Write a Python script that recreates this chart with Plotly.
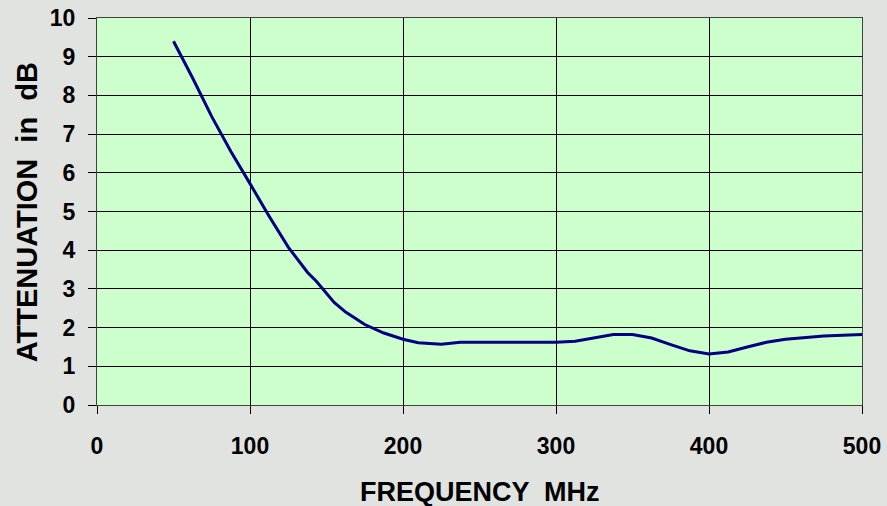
import plotly.graph_objects as go

freq_mhz = [50, 62.5, 75, 87.5, 100, 112.5, 125, 137.5, 143.5, 155, 162.5, 175, 187.5, 200,
            210, 225, 237.5, 250, 262.5, 275, 287.5, 300, 312.5, 325, 337.5, 350, 362.5,
            375, 387.5, 400, 412.5, 425, 437.5, 450, 462.5, 475, 487.5, 500]
atten_db = [9.40, 8.45, 7.45, 6.55, 5.72, 4.88, 4.08, 3.43, 3.19, 2.65, 2.40, 2.08, 1.86, 1.70,
            1.61, 1.57, 1.62, 1.62, 1.62, 1.62, 1.62, 1.62, 1.65, 1.74, 1.82, 1.82, 1.73,
            1.56, 1.40, 1.32, 1.37, 1.50, 1.62, 1.70, 1.74, 1.78, 1.80, 1.82]

x_ticks = [0, 100, 200, 300, 400, 500]
y_ticks = [0, 1, 2, 3, 4, 5, 6, 7, 8, 9, 10]
x_title = "FREQUENCY  MHz"
y_title = "ATTENUATION  in  dB"

font_family = "Liberation Sans, Arial, sans-serif"

fig = go.Figure()
fig.add_trace(go.Scatter(
    x=freq_mhz, y=atten_db, mode="lines",
    line=dict(color="#000080", width=3),
    hoverinfo="x+y", showlegend=False,
))

fig.update_layout(
    width=887, height=506,
    margin=dict(l=97, r=25, t=18, b=101, autoexpand=False),
    paper_bgcolor="#E0E3E0",
    plot_bgcolor="#CCFFCC",
    font=dict(family=font_family, color="black"),
    annotations=[
        dict(text=f"<b>{x_title}</b>", xref="paper", yref="paper", x=0.5, y=-0.2248,
             xanchor="center", yanchor="middle", showarrow=False,
             font=dict(size=27, family=font_family, color="black")),
        dict(text=f"<b>{y_title}</b>", xref="paper", yref="paper", x=-0.092, y=0.497,
             xanchor="center", yanchor="middle", showarrow=False, textangle=-90,
             font=dict(size=29, family=font_family, color="black")),
    ],
)

fig.update_xaxes(
    range=[0, 500], tickvals=x_ticks, ticktext=[f"<b>{v}</b>" for v in x_ticks],
    showgrid=True, gridcolor="black", gridwidth=1,
    ticks="outside", ticklen=8, tickcolor="black", tickwidth=1,
    showline=True, linecolor="#404040", linewidth=1, mirror=True,
    tickfont=dict(size=23, family=font_family, color="black"),
    ticklabelstandoff=12, automargin=False,
    zeroline=False, fixedrange=True,
)
fig.update_yaxes(
    range=[0, 10], tickvals=y_ticks, ticktext=[f"<b>{v}</b>" for v in y_ticks],
    showgrid=True, gridcolor="black", gridwidth=1,
    ticks="outside", ticklen=8, tickcolor="black", tickwidth=1,
    showline=True, linecolor="#404040", linewidth=1, mirror=True,
    tickfont=dict(size=23, family=font_family, color="black"),
    ticklabelstandoff=8, automargin=False,
    zeroline=False, fixedrange=True,
)

fig.write_html("out.html", config={"displayModeBar": False},
               post_script="document.body.style.margin='0';")
